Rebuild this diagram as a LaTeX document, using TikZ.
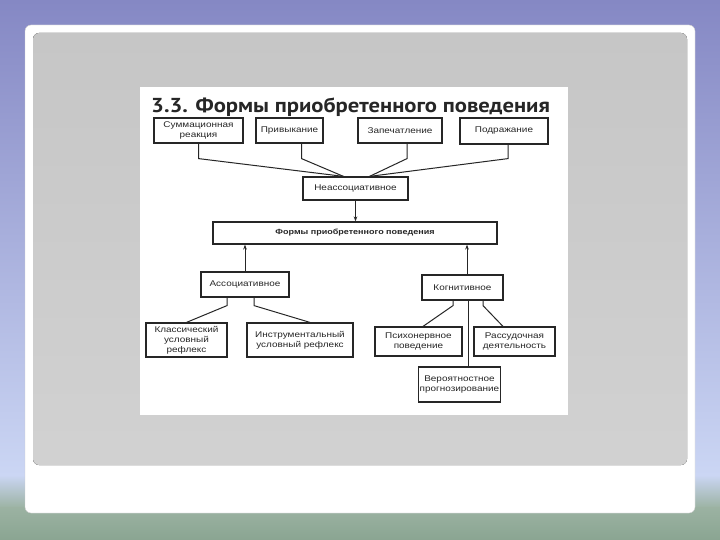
\documentclass[tikz,border=0pt]{standalone}
\usepackage{fontspec}
\setmainfont{Liberation Sans}
\newfontfamily\boxfont[FakeStretch=1.2]{Liberation Sans}
\newfontfamily\titlefont[FakeStretch=1.12]{PT Sans}
\usetikzlibrary{arrows.meta,calc}
\definecolor{bgtop}{HTML}{8588C4}
\definecolor{bgmid}{HTML}{CBD6F4}
\definecolor{bggreen}{HTML}{8AA592}
\definecolor{panelgray}{HTML}{C6C6C6}
\definecolor{ink}{HTML}{262626}
\begin{document}
\begin{tikzpicture}[x=1pt,y=-1pt,
	box/.style={draw=ink, line width=1.2pt, fill=white, inner sep=1pt, align=center,
		text=ink, font=\boxfont\fontsize{8.3}{9.8}\selectfont},
	link/.style={draw=ink, line width=1pt},
	arr/.style={link, -{Stealth[length=5pt,width=3.6pt]}}]
		
		\useasboundingbox (0,0) rectangle (720,540);
		
		% Фон слайда
		\fill[top color=bgtop, bottom color=bgmid] (0,0) rectangle (720,476);
		\fill[top color=bgmid, bottom color=bggreen!85!white] (0,475) rectangle (720,508);
		\fill[top color=bggreen!85!white, bottom color=bggreen] (0,507) rectangle (720,540);
		\fill[white, draw=gray!40, rounded corners=6] (25,25) rectangle (695,513);
		\fill[top color=panelgray, bottom color=panelgray!80!white, rounded corners=6] (33,33) rectangle (687,465);
		\fill[white] (140,87) rectangle (568,415);
		
		% Заголовок
		\node[anchor=base west, inner sep=0, text=ink, font=\titlefont\bfseries\fontsize{20.2}{21}\selectfont] (title) at (151,113) {3.3. Формы приобретенного поведения};
		
		% Верхний ряд
		\node[box, minimum width=89pt, minimum height=25pt] (sum) at (198.5,130.5) {Суммационная\\реакция};
		\node[box, minimum width=67pt, minimum height=25pt] (priv) at (289.5,130.5) {Привыкание};
		\node[box, minimum width=84pt, minimum height=25pt] (zap) at (400,130.5) {Запечатление};
		\node[box, minimum width=88pt, minimum height=26pt] (podr) at (504,131) {Подражание};
		\node[box, minimum width=105pt, minimum height=23pt] (neas) at (355.5,188.5) {Неассоциативное};
		
		% Центр
		\node[box, minimum width=284pt, minimum height=22pt, font=\boxfont\bfseries\fontsize{7.5}{9}\selectfont] (formy) at (355,233) {Формы приобретенного поведения};
		
		% Ассоциативное и когнитивное
		\node[box, minimum width=88pt, minimum height=25pt] (assoc) at (245,284.5) {Ассоциативное};
		\node[box, minimum width=81pt, minimum height=25pt] (kogn) at (462.5,287.5) {Когнитивное};
		
		% Нижний ряд
		\node[box, minimum width=81pt, minimum height=34pt] (klass) at (186.5,340) {Классический\\условный\\рефлекс};
		\node[box, minimum width=106pt, minimum height=34pt] (instr) at (300,340) {Инструментальный\\условный рефлекс};
		\node[box, minimum width=87pt, minimum height=29pt] (psih) at (418.5,341.5) {Психонервное\\поведение};
		\node[box, minimum width=81pt, minimum height=29pt] (rass) at (514.5,341.5) {Рассудочная\\деятельность};
		\node[box, minimum width=79pt, minimum height=35pt] (ver) at (459.5,384.5) {Вероятностное\\прогнозирование};
		
		% Связи сверху
		\draw[link] (sum.south) -- ++(0,15) -- ($(neas.north)+(-12,0)$);
		\draw[link] ($(priv.south)+(12,0)$) -- ++(0,15) -- ($(neas.north)+(-12,0)$);
		\draw[link] ($(zap.south)+(7,0)$) -- ++(0,15) -- ($(neas.north)+(14,0)$);
		\draw[link] ($(podr.south)+(4,0)$) -- ++(0,14) -- ($(neas.north)+(14,0)$);
		
		% Стрелки
		\draw[arr] (neas.south) -- (neas.south |- formy.north);
		\draw[arr] (assoc.north) -- (assoc.north |- formy.south);
		\coordinate (kup) at ($(kogn.north)+(4.5,0)$);
		\draw[arr] (kup) -- (kup |- formy.south);
		
		% Связи снизу
		\draw[link] ($(assoc.south)+(-18,0)$) -- ++(0,8) -- (klass.north);
		\draw[link] ($(assoc.south)+(9,0)$) -- ++(0,8) -- ($(instr.north)+(10,0)$);
		\draw[link] ($(kogn.south)+(-9.5,0)$) -- ++(0,5) -- ($(psih.north)+(4.5,0)$);
		\coordinate (kdown) at ($(kogn.south)+(5.5,0)$);
		\draw[link] (kdown) -- (kdown |- ver.north);
		\draw[link] ($(kogn.south)+(20.5,0)$) -- ++(0,5) -- ($(rass.north)+(-11.5,0)$);
		
	\end{tikzpicture}
\end{document}
